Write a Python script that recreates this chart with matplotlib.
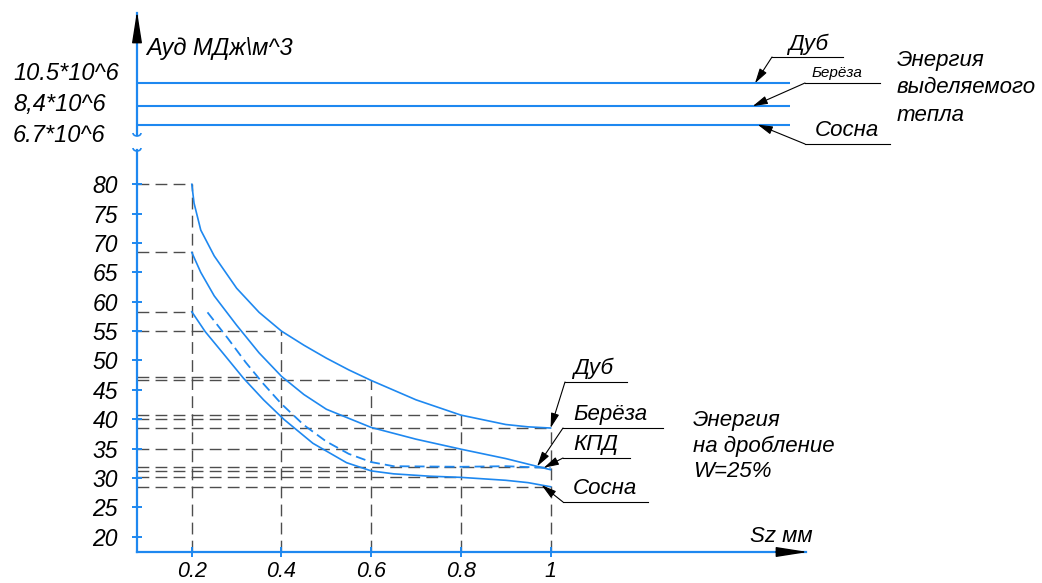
import matplotlib
matplotlib.use('Agg')
import matplotlib.pyplot as plt
from matplotlib.patches import Arc
import numpy as np

# Chart values
sz_ticks = [0.2, 0.4, 0.6, 0.8, 1.0]
sz_tick_labels = ['0.2', '0.4', '0.6', '0.8', '1']
a_ticks = list(range(20, 81, 5))

oak_x = [0.2, 0.205, 0.22, 0.25, 0.3, 0.35, 0.4, 0.45, 0.5, 0.55, 0.6, 0.7, 0.8, 0.9, 0.95, 1.0]
oak_y = [80.0, 76.8, 72.2, 67.8, 62.3, 58.2, 55.0, 52.6, 50.4, 48.4, 46.6, 43.3, 40.7, 39.1, 38.7, 38.5]

birch_x = [0.2, 0.22, 0.25, 0.3, 0.35, 0.4, 0.45, 0.5, 0.6, 0.7, 0.8, 0.9, 1.0]
birch_y = [68.4, 65.0, 61.0, 56.0, 51.3, 47.3, 44.2, 41.7, 38.6, 36.6, 34.9, 33.3, 31.4]

pine_x = [0.2, 0.23, 0.27, 0.315, 0.36, 0.405, 0.47, 0.545, 0.6, 0.65, 0.73, 0.8, 0.9, 0.95, 1.0]
pine_y = [58.3, 54.9, 51.2, 47.0, 43.3, 40.0, 35.9, 32.6, 31.2, 30.7, 30.3, 30.1, 29.6, 29.2, 28.5]

kpd_x = [0.235, 0.28, 0.32, 0.36, 0.4, 0.45, 0.5, 0.55, 0.6, 0.65, 0.8, 0.9, 1.0]
kpd_y = [58.2, 53.8, 49.7, 46.0, 42.6, 39.0, 36.2, 34.1, 32.7, 32.0, 31.9, 32.0, 31.7]

# dashed reference lines: level -> where it ends on Sz
guide_h_vals = [80, 68.4, 58.3, 55.0, 47.2, 46.6, 40.7, 40.0, 38.5, 35.0, 31.9, 31.2, 30.2, 28.5]
guide_h_ends = [0.2, 0.2, 0.2, 0.4, 0.4, 0.6, 0.8, 0.4, 1.0, 0.8, 1.0, 0.6, 0.8, 1.0]
guide_v_x = [0.2, 0.4, 0.6, 0.8, 1.0]
guide_v_top = [80, 55.0, 46.6, 40.7, 38.5]

# heat of combustion, *10^6
heat_vals = [10.5, 8.4, 6.7]
heat_labels = ['10.5*10^6', '8,4*10^6', '6.7*10^6']

BLUE = '#1E88F0'
GUIDE = '#4d4d4d'
W, H = 1042, 583

plt.rcParams.update({
    'font.family': ['Liberation Sans', 'DejaVu Sans'],
    'font.style': 'italic',
    'font.size': 16,
})


def fig_rect(l, t, r, b):
    return [l / W, 1 - b / H, (r - l) / W, (b - t) / H]


fig = plt.figure(figsize=(W / 100, H / 100), dpi=100)

# lower chart: specific crushing energy
ax = fig.add_axes(fig_rect(137, 150, 806, 552))
x_lim = (0.6 - (371.2 - 137) / 448.5, 0.6 + (806 - 371.2) / 448.5)
ax.set_xlim(*x_lim)
ax.set_ylim(80 - (552 - 184.3) / 5.873, 80 + (184.3 - 150) / 5.873)

# upper strip: heat energy
ax2 = fig.add_axes(fig_rect(137, 13, 806, 135))
ax2.set_xlim(*x_lim)
ax2.set_ylim(8.533 - (135 - 104.67) / 10.9, 8.533 + (104.67 - 13) / 10.9)

overlay = fig.add_axes([0, 0, 1, 1])
overlay.set_xlim(0, W)
overlay.set_ylim(H, 0)
overlay.axis('off')
overlay.set_zorder(5)

# guide lines
ax.hlines(guide_h_vals, x_lim[0], guide_h_ends, colors=GUIDE, lw=1.0,
          linestyles=(0, (8.5, 4.5)), zorder=1)
ax.vlines(guide_v_x, ax.get_ylim()[0], guide_v_top, colors=GUIDE, lw=1.0,
          linestyles=(0, (8.5, 4.5)), zorder=1)

ax.plot(oak_x, oak_y, color=BLUE, lw=1.2, zorder=3)
ax.plot(birch_x, birch_y, color=BLUE, lw=1.2, zorder=3)
ax.plot(pine_x, pine_y, color=BLUE, lw=1.2, zorder=3)
ax.plot(kpd_x, kpd_y, color=BLUE, lw=1.3, dashes=(5.5, 2.8), zorder=3)

for a in (ax, ax2):
    a.set_facecolor('none')
    for s in ('top', 'right'):
        a.spines[s].set_visible(False)
    a.spines['left'].set_color(BLUE)
    a.spines['left'].set_linewidth(1.6)
ax.spines['bottom'].set_color(BLUE)
ax.spines['bottom'].set_linewidth(1.6)
ax2.spines['bottom'].set_visible(False)
ax2.set_xticks([])
ax2.set_yticks([])

ax.set_xticks(sz_ticks, sz_tick_labels)
ax.set_yticks(a_ticks)
ax.tick_params(axis='both', direction='inout', length=7.5, width=1.4, color=BLUE)
ax.tick_params(axis='y', pad=10, labelsize=16.5)
ax.tick_params(axis='x', pad=2.5, labelsize=15.5)

ax2.hlines(heat_vals, x_lim[0], 0.6 + (790 - 371.2) / 448.5, colors=BLUE, lw=1.5)

# axis arrows and break marks
arrow = dict(arrowstyle='-|>,head_length=1.4,head_width=0.22', color='black',
             lw=1.0, shrinkA=0, shrinkB=0, mutation_scale=14)
overlay.annotate('', xy=(137, 11), xytext=(137, 42), arrowprops=arrow)
overlay.annotate('', xy=(808, 552), xytext=(776, 552), arrowprops=arrow)
for yb in (133, 148):
    overlay.add_patch(Arc((137, yb), 8, 6, theta1=0, theta2=180, color=BLUE, lw=1.2))


def to_px(a, x, y):
    return overlay.transData.inverted().transform(a.transData.transform((x, y)))


def leader(a, tip, elbow, shelf_end, text, text_xy, size=16):
    tx, ty = to_px(a, *tip)
    overlay.annotate('', xy=(tx, ty), xytext=elbow,
                     arrowprops=dict(arrowstyle='-|>,head_length=0.9,head_width=0.25',
                                     color='black', lw=0.8, shrinkA=0, shrinkB=0,
                                     mutation_scale=10))
    overlay.plot([elbow[0], shelf_end], [elbow[1], elbow[1]], color='black', lw=0.8)
    overlay.text(text_xy[0], text_xy[1], text, ha='left', va='bottom', size=size)


xr = 0.6 + (755 - 371.2) / 448.5
leader(ax2, (xr, heat_vals[0]), (772, 57), 843, 'Дуб', (788, 55))
leader(ax2, (xr - 0.005, heat_vals[1]), (805, 83), 880, 'Берёза', (812, 80), size=11)
leader(ax2, (xr + 0.006, heat_vals[2]), (805, 144), 890, 'Сосна', (815, 141))

leader(ax, (oak_x[-1], oak_y[-1]), (565, 382), 627, 'Дуб', (573, 379))
leader(ax, (0.97, np.interp(0.97, birch_x, birch_y)), (563, 428), 663, 'Берёза', (573, 425))
leader(ax, (0.985, np.interp(0.985, kpd_x, kpd_y)), (563, 458), 630, 'КПД', (573, 455))
leader(ax, (0.98, np.interp(0.98, pine_x, pine_y)), (563, 502), 648, 'Сосна', (573, 499))

# labels
overlay.text(146, 48, 'Ауд МДж\\м^3', va='center', ha='left', size=17)
for lbl, yy in zip(heat_labels, [73, 105, 135]):
    overlay.text(13, yy, lbl, va='center', ha='left', size=17)
overlay.text(897, 50, 'Энергия\nвыделяемого\nтепла', va='top', ha='left', linespacing=1.4)
overlay.text(693, 410, 'Энергия\nна дробление\nW=25%', va='top', ha='left', linespacing=1.27)
overlay.text(750, 547, 'Sz мм', va='bottom', ha='left')

fig.savefig('out.png', dpi=100)
